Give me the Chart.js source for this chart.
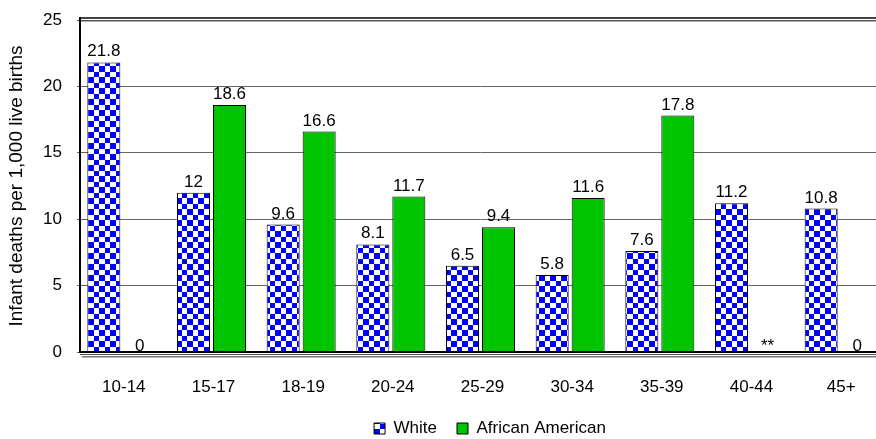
<!DOCTYPE html>
<html>
<head>
<meta charset="utf-8">
<script src="https://cdn.jsdelivr.net/npm/chart.js@4.4.1/dist/chart.umd.min.js"></script>
<style>
  html, body { margin: 0; padding: 0; background: #fff; overflow: hidden; width: 876px; height: 439px; }
  #wrap { position: absolute; left: 0; top: 0; width: 884px; height: 447px; }
</style>
</head>
<body>
<div id="wrap"><canvas id="chart" width="884" height="447"></canvas></div>
<script>
const ageGroups = ['10-14', '15-17', '18-19', '20-24', '25-29', '30-34', '35-39', '40-44', '45+'];
const whiteRates = [21.8, 12, 9.6, 8.1, 6.5, 5.8, 7.6, 11.2, 10.8];
const africanAmericanRates = [0, 18.6, 16.6, 11.7, 9.4, 11.6, 17.8, null, 0];
const whiteLabels = ['21.8', '12', '9.6', '8.1', '6.5', '5.8', '7.6', '11.2', '10.8'];
const africanAmericanLabels = ['0', '18.6', '16.6', '11.7', '9.4', '11.6', '17.8', '**', '0'];
const yTickValues = [0, 5, 10, 15, 20, 25];
const seriesNames = ['White', 'African American'];
const yTitle = 'Infant deaths per 1,000 live births';

const FONT = '"Liberation Sans", Arial, sans-serif';

function checkerPattern() {
  const c = document.createElement('canvas');
  c.width = 11; c.height = 11;
  const g = c.getContext('2d');
  g.fillStyle = '#ffffff'; g.fillRect(0, 0, 11, 11);
  g.fillStyle = '#0000ff';
  g.fillRect(0, 0, 6, 6);
  g.fillRect(6, 6, 5, 5);
  return g.createPattern(c, 'repeat');
}

const ctx = document.getElementById('chart').getContext('2d');
const pattern = checkerPattern();

const framePlugin = {
  id: 'frame',
  afterDatasetsDraw(chart) {
    const c = chart.ctx;
    const yScale = chart.scales.y;
    const y0 = yScale.getPixelForValue(0);
    const yTop = yScale.getPixelForValue(25);
    const right = chart.width;
    c.save();
    c.fillStyle = '#444';
    c.fillRect(80, yTop - 3, right - 80, 2);
    c.fillStyle = '#555';
    c.fillRect(80, yTop, right - 80, 1.5);
    c.fillStyle = '#000';
    c.fillRect(79, yTop - 3, 2, y0 - yTop + 4);
    c.fillRect(79, y0 - 1, right - 79, 2);
    c.fillStyle = '#555';
    c.fillRect(80, y0 + 2, right - 80, 1);
    c.fillStyle = '#777';
    c.fillRect(82, y0 + 4, right - 82, 1.5);
    c.restore();
  }
};

const labelPlugin = {
  id: 'valueLabels',
  afterDatasetsDraw(chart) {
    const c = chart.ctx;
    const yScale = chart.scales.y;
    const lists = [whiteLabels, africanAmericanLabels];
    c.save();
    c.font = '17px ' + FONT;
    c.fillStyle = '#000';
    c.textAlign = 'center';
    c.textBaseline = 'alphabetic';
    chart.data.datasets.forEach((ds, di) => {
      const meta = chart.getDatasetMeta(di);
      meta.data.forEach((bar, i) => {
        const v = ds.data[i];
        const text = lists[di][i];
        let y;
        if (v === null || v === 0) {
          y = yScale.getPixelForValue(0) - 1;
        } else {
          y = bar.y - 6;
        }
        c.fillText(text, bar.x, y);
      });
    });
    c.restore();
  }
};

const legendShift = {
  id: 'legendShift',
  afterLayout(chart) {
    const l = chart.legend;
    if (l) { l.left += 48; l.right += 48; }
  }
};

new Chart(ctx, {
  type: 'bar',
  data: {
    labels: ageGroups,
    datasets: [
      {
        label: seriesNames[0],
        data: whiteRates,
        backgroundColor: pattern,
        borderColor: '#000',
        borderWidth: 1,
        borderSkipped: 'start',
        categoryPercentage: 0.803,
        barPercentage: 0.917
      },
      {
        label: seriesNames[1],
        data: africanAmericanRates,
        backgroundColor: '#00c400',
        borderColor: '#000',
        borderWidth: 1,
        borderSkipped: 'start',
        categoryPercentage: 0.803,
        barPercentage: 0.917
      }
    ]
  },
  options: {
    responsive: false,
    animation: false,
    devicePixelRatio: 1,
    layout: { padding: { top: 20, right: 0, bottom: 0, left: 0 } },
    plugins: {
      legend: {
        position: 'bottom',
        labels: {
          boxWidth: 11,
          boxHeight: 11,
          padding: 20,
          color: '#000',
          font: { size: 17, family: FONT }
        }
      },
      tooltip: { enabled: false }
    },
    scales: {
      x: {
        grid: { display: false },
        border: { display: false },
        ticks: {
          color: '#000',
          font: { size: 17, family: FONT },
          padding: 17,
          labelOffset: 2,
          maxRotation: 0,
          autoSkip: false
        },
        afterFit(s) { s.height = 48; }
      },
      y: {
        min: 0,
        max: 25,
        afterBuildTicks(s) { s.ticks = yTickValues.map(v => ({ value: v })); },
        ticks: {
          color: '#000',
          font: { size: 17, family: FONT },
          padding: 15
        },
        grid: { color: '#666', drawTicks: false, lineWidth: 1 },
        border: { display: false },
        title: {
          display: true,
          text: yTitle,
          color: '#000',
          font: { size: 19, family: FONT },
          padding: { top: 5, bottom: 0 }
        },
        afterFit(s) { s.width = 77; s.paddingTop = 0; s.paddingBottom = 0; }
      }
    }
  },
  plugins: [framePlugin, labelPlugin, legendShift]
});
</script>
</body>
</html>
